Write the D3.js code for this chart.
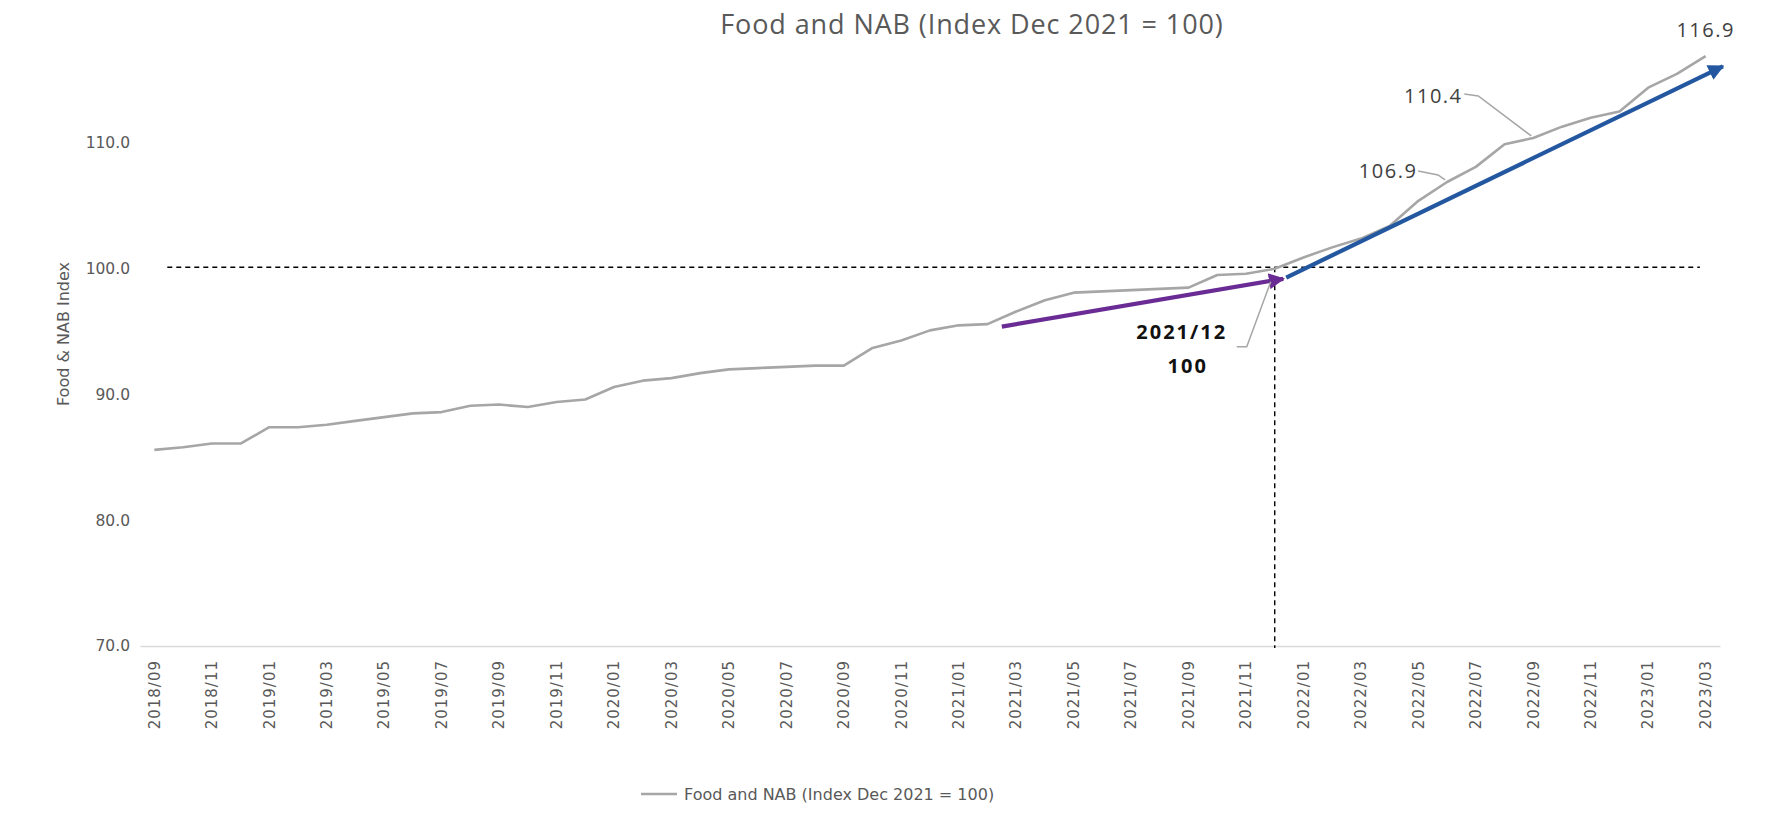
<!DOCTYPE html>
<html><head><meta charset="utf-8">
<script src="https://cdn.jsdelivr.net/npm/d3@7"></script>
<style>html,body{margin:0;padding:0;background:#fff;} svg{display:block;}</style>
</head><body><svg id="chart" width="1769" height="813"></svg>
<script>
// ---------- DATA ----------
const months = [
  "2018/09","2018/10","2018/11","2018/12",
  "2019/01","2019/02","2019/03","2019/04","2019/05","2019/06","2019/07","2019/08","2019/09","2019/10","2019/11","2019/12",
  "2020/01","2020/02","2020/03","2020/04","2020/05","2020/06","2020/07","2020/08","2020/09","2020/10","2020/11","2020/12",
  "2021/01","2021/02","2021/03","2021/04","2021/05","2021/06","2021/07","2021/08","2021/09","2021/10","2021/11","2021/12",
  "2022/01","2022/02","2022/03","2022/04","2022/05","2022/06","2022/07","2022/08","2022/09","2022/10","2022/11","2022/12",
  "2023/01","2023/02","2023/03"
];
const foodNAB = [
  85.6, 85.8, 86.1, 86.1,
  87.4, 87.4, 87.6, 87.9, 88.2, 88.5, 88.6, 89.1, 89.2, 89.0, 89.4, 89.6,
  90.6, 91.1, 91.3, 91.7, 92.0, 92.1, 92.2, 92.3, 92.3, 93.7, 94.3, 95.1,
  95.5, 95.6, 96.6, 97.5, 98.1, 98.2, 98.3, 98.4, 98.5, 99.5, 99.6, 100.0,
  100.9, 101.7, 102.4, 103.4, 105.4, 106.9, 108.1, 109.9, 110.4, 111.3, 112.0, 112.5,
  114.4, 115.5, 116.9
];
const tickLabels = [
  "2018/09","2018/11","2019/01","2019/03","2019/05","2019/07","2019/09","2019/11",
  "2020/01","2020/03","2020/05","2020/07","2020/09","2020/11",
  "2021/01","2021/03","2021/05","2021/07","2021/09","2021/11",
  "2022/01","2022/03","2022/05","2022/07","2022/09","2022/11",
  "2023/01","2023/03"
];
const yTicks = [70, 80, 90, 100, 110];
const titleText = "Food and NAB (Index Dec 2021 = 100)";
const yAxisTitle = "Food & NAB Index";
const seriesName = "Food and NAB (Index Dec 2021 = 100)";
const baseMonth = "2021/12";
const baseValue = 100;
const baseLabel = ["2021/12", "100"];
const labelledMonths = ["2022/06", "2022/09", "2023/03"];
// trend arrows: [month position (index, fractional), index value]
const trendBefore = [[29.5, 95.4], [39.3, 99.2]];
const trendAfter  = [[39.4, 99.3], [54.6, 116.1]];

// ---------- LAYOUT ----------
const svg = d3.select("#chart");
const x = d3.scaleBand().domain(months).range([140, 1720]);
const step = x.step();
const xc = m => x(m) + x.bandwidth() / 2;
const xi = i => x.range()[0] + (i + 0.5) * step;
const y = d3.scaleLinear().domain([70, 110]).range([646, 143]);

const grey = "#595959";
const lineCol = "#a6a6a6";
const axisFont = "'DejaVu Sans', Verdana, sans-serif";

// title
svg.append("text").attr("x", 972).attr("y", 34).attr("text-anchor", "middle")
  .attr("font-family", "'Open Sans', sans-serif").attr("font-size", 27)
  .attr("letter-spacing", 0.9).attr("fill", grey).text(titleText);

// y axis
const yAxis = svg.append("g").attr("transform", "translate(140,0)")
  .call(d3.axisLeft(y).tickValues(yTicks).tickFormat(d3.format(".1f")).tickSize(0).tickPadding(10));
yAxis.select(".domain").remove();
yAxis.selectAll("text").attr("font-family", axisFont).attr("font-size", 15.5).attr("fill", grey);

svg.append("text").attr("transform", "translate(63,334) rotate(-90)")
  .attr("text-anchor", "middle").attr("dy", "0.35em")
  .attr("font-family", axisFont).attr("font-size", 16).attr("fill", grey).text(yAxisTitle);

// x axis
const xAxis = svg.append("g").attr("transform", `translate(0,${y(70)})`)
  .call(d3.axisBottom(x).tickValues(tickLabels).tickSize(0).tickSizeOuter(0));
xAxis.select(".domain").attr("stroke", "#d9d9d9").attr("stroke-width", 1.5);
xAxis.selectAll("text")
  .attr("transform", "rotate(-90)")
  .attr("x", -14).attr("y", 0).attr("dy", "0.35em")
  .attr("text-anchor", "end")
  .attr("font-family", axisFont).attr("font-size", 15).attr("letter-spacing", 1)
  .attr("fill", grey);

// reference dashed lines
svg.append("line")
  .attr("x1", xi(0.45)).attr("x2", xi(53.8))
  .attr("y1", y(baseValue) - 1.5).attr("y2", y(baseValue) - 1.5)
  .attr("stroke", "#000").attr("stroke-width", 1.4).attr("stroke-dasharray", "5,4");
svg.append("line")
  .attr("x1", xc(baseMonth)).attr("x2", xc(baseMonth))
  .attr("y1", y(baseValue) - 1.5).attr("y2", y(70) + 2)
  .attr("stroke", "#000").attr("stroke-width", 1.4).attr("stroke-dasharray", "5,4");

// series line
const line = d3.line().x((d, i) => xc(months[i])).y(d => y(d));
svg.append("path").datum(foodNAB).attr("d", line)
  .attr("fill", "none").attr("stroke", lineCol).attr("stroke-width", 2.6)
  .attr("stroke-linejoin", "round");

// arrow markers
const defs = svg.append("defs");
function marker(id, col) {
  defs.append("marker").attr("id", id).attr("viewBox", "0 0 10 10")
    .attr("refX", 9).attr("refY", 5).attr("markerWidth", 16).attr("markerHeight", 16)
    .attr("markerUnits", "userSpaceOnUse").attr("orient", "auto")
    .append("path").attr("d", "M0,0 L10,5 L0,10 z").attr("fill", col);
}
marker("arrPurple", "#6a2c94");
marker("arrBlue", "#23579f");
const tline = d3.line().x(d => xi(d[0])).y(d => y(d[1]));
svg.append("path").datum(trendBefore).attr("d", tline)
  .attr("stroke", "#6a2c94").attr("stroke-width", 4.2).attr("fill", "none")
  .attr("marker-end", "url(#arrPurple)");
svg.append("path").datum(trendAfter).attr("d", tline)
  .attr("stroke", "#23579f").attr("stroke-width", 4.2).attr("fill", "none")
  .attr("marker-end", "url(#arrBlue)");

// data labels
const valOf = m => foodNAB[months.indexOf(m)];
const lblFont = "'Open Sans', sans-serif";
const lblOffsets = {
  "2022/06": {tx: -59, ty: -11, leader: [[-29, -11], [-9, -7]]},
  "2022/09": {tx: -100, ty: -42, leader: [[-69, -44], [-55, -42]]},
  "2023/03": {tx: 0, ty: -26, leader: null}
};
labelledMonths.forEach(m => {
  const px = xc(m), py = y(valOf(m));
  const o = lblOffsets[m];
  if (o.leader) {
    const pts = [[px + o.leader[0][0], py + o.leader[0][1]], [px + o.leader[1][0], py + o.leader[1][1]], [px - 2, py - 2]];
    svg.append("path").attr("d", d3.line()(pts)).attr("fill", "none")
      .attr("stroke", lineCol).attr("stroke-width", 1.5);
  }
  svg.append("text").attr("x", px + o.tx).attr("y", py + o.ty).attr("dy", "0.35em")
    .attr("text-anchor", "middle").attr("font-family", lblFont).attr("font-size", 20)
    .attr("letter-spacing", 1.5).attr("fill", "#404040").text(d3.format(".1f")(valOf(m)));
});

// base annotation
const bx = xc(baseMonth), by = y(baseValue);
svg.append("path").attr("d", d3.line()([[bx - 38, by + 78], [bx - 28, by + 78], [bx - 4, by + 13]]))
  .attr("fill", "none").attr("stroke", lineCol).attr("stroke-width", 1.5);
baseLabel.forEach((t, i) => {
  svg.append("text").attr("x", bx - 93 + i * 6).attr("y", by + 63 + i * 34).attr("dy", "0.35em")
    .attr("text-anchor", "middle").attr("font-family", lblFont).attr("font-weight", "bold")
    .attr("font-size", 20).attr("letter-spacing", 2).attr("fill", "#111").text(t);
});

// legend
svg.append("line").attr("x1", 641).attr("x2", 677).attr("y1", 794).attr("y2", 794)
  .attr("stroke", lineCol).attr("stroke-width", 2.6);
svg.append("text").attr("x", 684).attr("y", 794).attr("dy", "0.35em")
  .attr("font-family", axisFont).attr("font-size", 16).attr("fill", grey).text(seriesName);
</script></body></html>
